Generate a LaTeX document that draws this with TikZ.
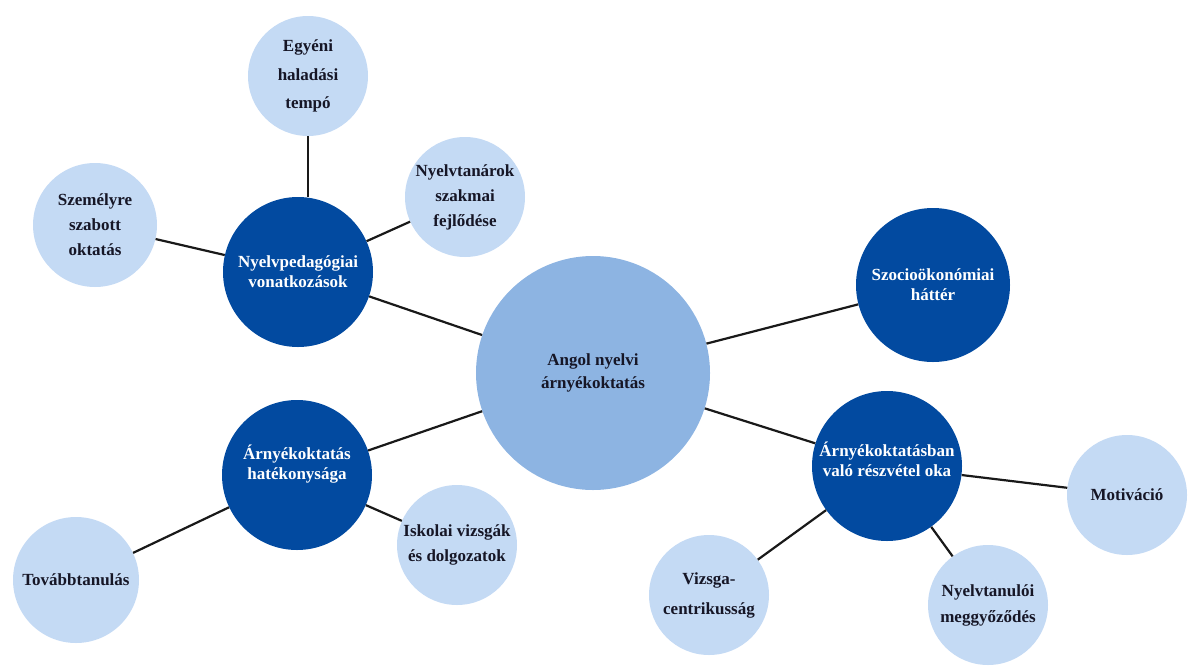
\documentclass[tikz,border=0pt]{standalone}
\usepackage{fontspec}
\setmainfont{Liberation Serif}[BoldFont={Liberation Serif Bold}]
\definecolor{darkb}{RGB}{2,74,160}
\definecolor{midb}{RGB}{141,180,226}
\definecolor{lightb}{RGB}{196,218,244}
\definecolor{txt}{RGB}{22,22,38}
\tikzset{
  leaf/.style={circle,fill=lightb,minimum size=120pt,inner sep=0pt,align=center,
    font=\bfseries\fontsize{17}{25}\selectfont,text=txt},
  hub/.style={circle,fill=darkb,minimum size=150pt,inner sep=0pt,align=center,
    font=\bfseries\fontsize{17}{20}\selectfont,text=white},
  core/.style={circle,fill=midb,minimum size=234pt,inner sep=0pt,align=center,
    font=\bfseries\fontsize{17}{23}\selectfont,text=txt},
  link/.style={draw=black!90,line width=2.2pt}
}
\begin{document}
\begin{tikzpicture}[x=1pt,y=-1pt]
\useasboundingbox (0,0) rectangle (1189,670);
\node[core] (c) at (593,373) {Angol nyelvi\\árnyékoktatás};
\node[hub] (np) at (298,272) {Nyelvpedagógiai\\vonatkozások};
\node[hub,minimum size=154pt] (sz) at (933,285) {Szocioökonómiai\\háttér};
\node[hub] (ah) at (297,475) {Árnyékoktatás\\hatékonysága\\[6pt]};
\node[hub] (ar) at (887,466) {Árnyékoktatásban\\való részvétel oka\\[-6pt]};
\node[leaf,font=\bfseries\fontsize{17}{28.5}\selectfont] (eg) at (308,76) {Egyéni\\haladási\\tempó};
\node[leaf,minimum size=124pt] (sze) at (95,225) {Személyre\\szabott\\oktatás};
\node[leaf] (ny) at (465,197) {Nyelvtanárok\\szakmai\\fejlődése};
\node[leaf,minimum size=126pt] (to) at (76,580) {Továbbtanulás};
\node[leaf] (is) at (457,545) {Iskolai vizsgák\\és dolgozatok};
\node[leaf,font=\bfseries\fontsize{17}{30}\selectfont] (vi) at (709,595) {Vizsga-\\centrikusság};
\node[leaf,font=\bfseries\fontsize{17}{26}\selectfont] (nt) at (988,605) {Nyelvtanulói\\meggyőződés};
\node[leaf] (mo) at (1127,495) {Motiváció};
\draw[link] (c) -- (np);
\draw[link] (c) -- (sz);
\draw[link] (c) -- (ah);
\draw[link] (c) -- (ar);
\draw[link] (eg.south) -- (eg.south |- np.north);
\draw[link] (np) -- (sze);
\draw[link] (np) -- (ny);
\draw[link] (ah) -- (to);
\draw[link] (ah) -- (is);
\draw[link] (ar) -- (vi);
\draw[link] (ar) -- (nt);
\draw[link] (ar) -- (mo);
\end{tikzpicture}
\end{document}
